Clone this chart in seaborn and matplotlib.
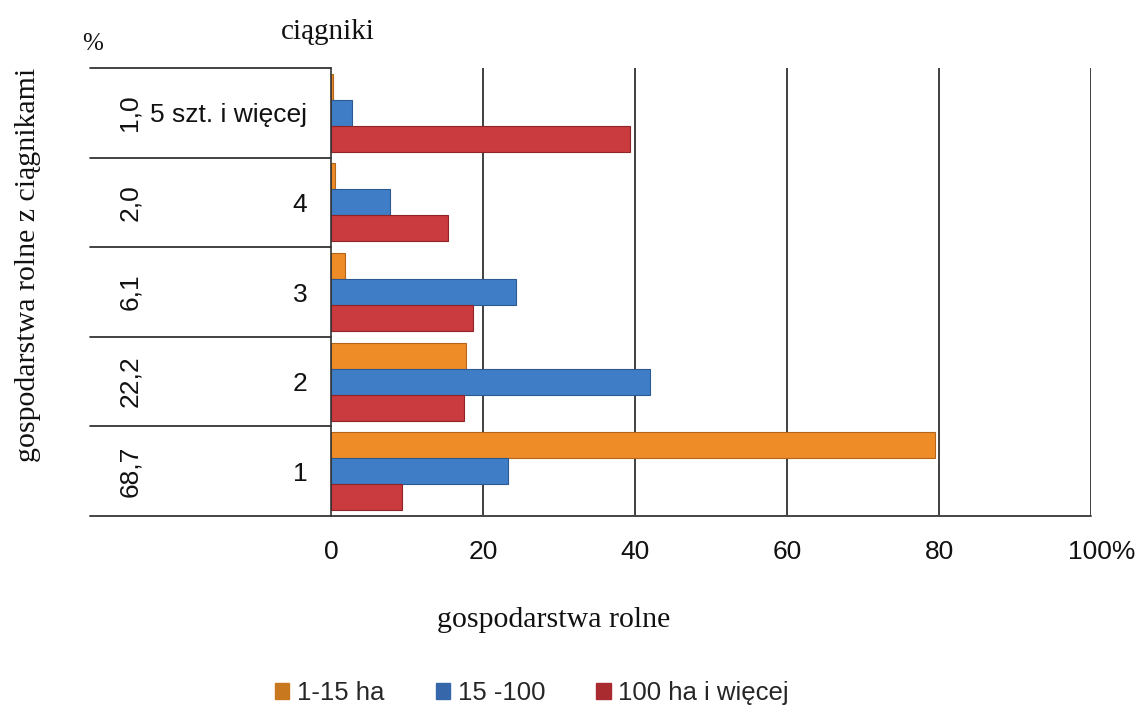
import matplotlib
matplotlib.use("Agg")
import matplotlib.pyplot as plt
import matplotlib.transforms as mtransforms
from matplotlib.patches import Patch
import seaborn as sns
import pandas as pd

# ---- data ----
categories = ["5 szt. i więcej", "4", "3", "2", "1"]
shares = ["1,0", "2,0", "6,1", "22,2", "68,7"]
series_names = ["1-15 ha", "15 -100", "100 ha i więcej"]
small_farms = [0.2, 0.5, 1.85, 17.8, 79.5]
medium_farms = [2.7, 7.8, 24.3, 42.0, 23.3]
large_farms = [39.4, 15.4, 18.7, 17.5, 9.4]
xticks = [0, 20, 40, 60, 80, 100]
xtick_labels = ["0", "20", "40", "60", "80", "100%"]

bar_colors = ["#EE8D27", "#3F7DC6", "#C93B3E"]
legend_colors = ["#C8781E", "#3667AA", "#A92B2F"]
edge_colors = ["#B5651A", "#2B5A92", "#8E2427"]

rows = []
for name, vals in zip(series_names, [small_farms, medium_farms, large_farms]):
    for c, v in zip(categories, vals):
        rows.append({"kat": c, "seria": name, "val": v})
df = pd.DataFrame(rows)

sns.set_theme(style="white")
plt.rcParams["font.family"] = ["Liberation Sans", "DejaVu Sans"]

fig = plt.figure(figsize=(11.4, 7.09), dpi=100)
fig.patch.set_facecolor("white")
ax = fig.add_axes([331 / 1140, 1 - 516 / 709, 760 / 1140, 448 / 709])

sns.barplot(data=df, y="kat", x="val", hue="seria", order=categories,
            hue_order=series_names, palette=bar_colors, orient="h",
            width=0.87, ax=ax, legend=False, saturation=1)

for cont, ec in zip(ax.containers, edge_colors):
    for p in cont:
        p.set_edgecolor(ec)
        p.set_linewidth(0.8)

ax.set_xlim(0, 100)
ax.set_ylim(4.5, -0.5)
ax.set_xticks(xticks)
ax.set_xticklabels(xtick_labels, fontsize=19, color="#111111")
ax.set_xlabel("")
ax.set_ylabel("")
ax.set_yticks(range(len(categories)))
ax.set_yticklabels(categories, fontsize=19, color="#111111")
ax.tick_params(axis="y", length=0, pad=17)
ax.tick_params(axis="x", length=7.5, width=1.2, color="#404040",
               direction="out", pad=10)

# shift "100%" label so that "100" sits under the gridline
last = ax.get_xticklabels()[-1]
last.set_transform(last.get_transform() +
                   mtransforms.ScaledTranslation(11 / 100, 0, fig.dpi_scale_trans))

for s in ["top", "right", "bottom"]:
    ax.spines[s].set_visible(False)
ax.spines["left"].set_color("#333333")
ax.spines["left"].set_linewidth(1.2)

ax.grid(False)
for xv in xticks[1:]:
    ax.axvline(xv, color="#404040", linewidth=1.4, zorder=0)

trans = mtransforms.blended_transform_factory(ax.transAxes, ax.transData)
x_left = (90 - 331) / 760
for yb in [-0.5, 0.5, 1.5, 2.5, 3.5]:
    ax.plot([x_left, 0], [yb, yb], transform=trans, color="#222222",
            linewidth=1.2, clip_on=False)
ax.plot([x_left, 1], [4.5, 4.5], transform=trans, color="#444444",
        linewidth=1.4, clip_on=False)

x_share = (130 - 331) / 760
for i, s in enumerate(shares):
    ax.text(x_share, i, s, transform=trans, rotation=90, ha="center",
            va="center", fontsize=19, color="#111111")

serif = ["Liberation Serif", "DejaVu Serif"]
fig.text(328 / 1140, 1 - 32 / 709, "ciągniki", family=serif, fontsize=21,
         ha="center", va="center", color="#111111")
fig.text(93 / 1140, 1 - 44 / 709, "%", family=serif, fontsize=18,
         ha="center", va="center", color="#111111")
fig.text(28 / 1140, 1 - 265 / 709, "gospodarstwa rolne z ciągnikami",
         family=serif, fontsize=21.5, rotation=90, ha="center", va="center",
         color="#111111")
fig.text(554 / 1140, 1 - 620 / 709, "gospodarstwa rolne", family=serif,
         fontsize=21.5, ha="center", va="center", color="#111111")

handles = [Patch(facecolor=c, edgecolor=c) for c in legend_colors]
fig.legend(handles, series_names, loc="center", bbox_to_anchor=(532 / 1140, 1 - 693 / 709),
           ncol=3, frameon=False, fontsize=18.5, handlelength=0.55,
           handleheight=0.55, handletextpad=0.3, columnspacing=2.0)

fig.savefig("out.png", dpi=100, facecolor="white")
